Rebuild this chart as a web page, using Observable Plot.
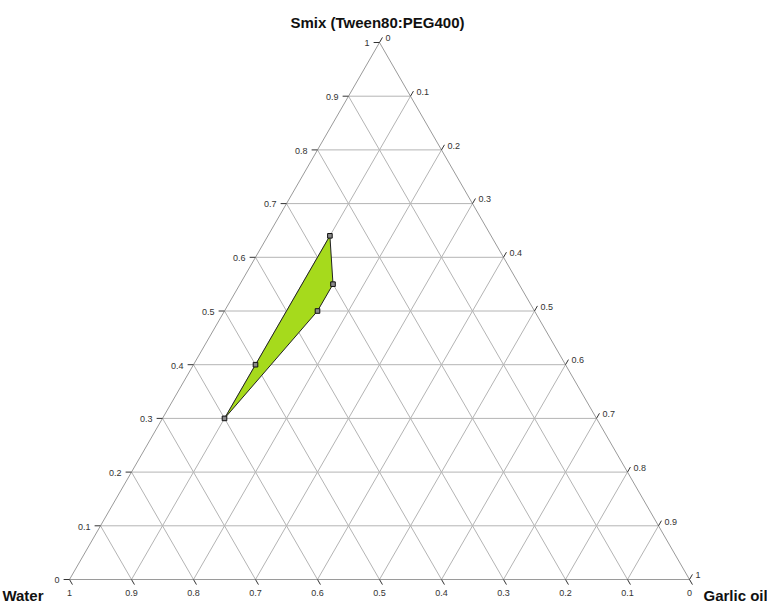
<!DOCTYPE html>
<html>
<head>
<meta charset="utf-8">
<script src="https://cdn.jsdelivr.net/npm/d3@7"></script>
<script src="https://cdn.jsdelivr.net/npm/@observablehq/plot@0.6"></script>
<style>
  html, body { margin: 0; padding: 0; background: #fff; }
</style>
</head>
<body>
<div id="chart"></div>
<script>
// Axis ticks (fractions) and their labels
const tickValues = [0, 0.1, 0.2, 0.3, 0.4, 0.5, 0.6, 0.7, 0.8, 0.9, 1];
const tickLabels = ["0", "0.1", "0.2", "0.3", "0.4", "0.5", "0.6", "0.7", "0.8", "0.9", "1"];

// Component names
const titleSmix = "Smix (Tween80:PEG400)";
const titleWater = "Water";
const titleOil = "Garlic oil";

// Boundary points of the nanoemulsion region (fractions)
const waterVals = [0.60, 0.50, 0.26, 0.30, 0.35];
const smixVals  = [0.30, 0.40, 0.64, 0.55, 0.50];
const oilVals   = [0.10, 0.10, 0.10, 0.15, 0.15];

// ---- ternary -> cartesian transform ----
const H = Math.sqrt(3) / 2;
const tx = (s, o) => o + s / 2;
const ty = (s) => s * H;

const pts = smixVals.map((s, i) => ({ x: tx(s, oilVals[i]), y: ty(s) }));
const ring = [...pts, pts[0]];

// Grid lines
const inner = tickValues.slice(1, -1);
const grid = [];
for (const t of inner) {
  grid.push({ x1: t / 2, y1: t * H, x2: 1 - t / 2, y2: t * H });           // Smix = t
  grid.push({ x1: t, y1: 0, x2: (1 + t) / 2, y2: (1 - t) * H });          // Oil = t
  grid.push({ x1: 1 - t, y1: 0, x2: (1 - t) / 2, y2: (1 - t) * H });      // Water = t
}
const edges = [
  { x1: 0, y1: 0, x2: 1, y2: 0 },
  { x1: 0, y1: 0, x2: 0.5, y2: H },
  { x1: 0.5, y1: H, x2: 1, y2: 0 }
];

// Ticks
const L = 0.0095;
const leftTicks = tickValues.map((s, i) => {
  const px = s / 2, py = s * H;
  return { x1: px, y1: py, x2: px - L, y2: py, label: tickLabels[i] };
});
const rightTicks = tickValues.map((o, i) => {
  const px = (1 + o) / 2, py = (1 - o) * H;
  return { x1: px, y1: py, x2: px + L * 0.5, y2: py + L * H, label: tickLabels[i] };
});
const bottomTicks = tickValues.map((w, i) => {
  const px = 1 - w, py = 0;
  return { x1: px, y1: py, x2: px + L * 0.5, y2: py - L * H, label: tickLabels[i] };
});
const allTicks = [...leftTicks, ...rightTicks, ...bottomTicks];

const labelFill = "#333";
const labelSize = 9;

const chart = Plot.plot({
  width: 767,
  height: 605,
  marginLeft: 69,
  marginRight: 78,
  marginTop: 42,
  marginBottom: 26,
  x: { domain: [0, 1], axis: null },
  y: { domain: [0, H], axis: null },
  style: { fontFamily: "'Liberation Sans', Arial, sans-serif", background: "#fff" },
  marks: [
    Plot.link(grid, { x1: "x1", y1: "y1", x2: "x2", y2: "y2", stroke: "#b4b4b4", strokeWidth: 1 }),
    Plot.link(edges, { x1: "x1", y1: "y1", x2: "x2", y2: "y2", stroke: "#9a9a9a", strokeWidth: 1 }),
    Plot.link(allTicks, { x1: "x1", y1: "y1", x2: "x2", y2: "y2", stroke: "#333", strokeWidth: 1 }),
    Plot.line(ring, { x: "x", y: "y", fill: "#a6da1c", stroke: "#222", strokeWidth: 1 }),
    Plot.dot(pts, { x: "x", y: "y", symbol: "square", r: 2.6, fill: "#8a8a8a", stroke: "#111", strokeWidth: 1 }),
    Plot.text(leftTicks, { x: "x2", y: "y2", text: "label", textAnchor: "end", dx: -4, dy: 1, fontSize: labelSize, fill: labelFill }),
    Plot.text(rightTicks, { x: "x2", y: "y2", text: "label", textAnchor: "start", dx: 3, dy: 1, fontSize: labelSize, fill: labelFill }),
    Plot.text(bottomTicks, { x: "x1", y: "y1", text: "label", textAnchor: "middle", dy: 14, fontSize: labelSize, fill: labelFill }),
    Plot.text([{ x: 0.5, y: H, t: titleSmix }], { x: "x", y: "y", text: "t", textAnchor: "middle", dx: -2, dy: -19, fontSize: 15, fontWeight: "bold", fill: "#111" }),
    Plot.text([{ x: 0, y: 0, t: titleWater }], { x: "x", y: "y", text: "t", textAnchor: "end", dx: -26, dy: 17, fontSize: 15, fontWeight: "bold", fill: "#111" }),
    Plot.text([{ x: 1, y: 0, t: titleOil }], { x: "x", y: "y", text: "t", textAnchor: "start", dx: 14, dy: 17, fontSize: 15, fontWeight: "bold", fill: "#111" })
  ]
});
document.getElementById("chart").appendChild(chart);
</script>
</body>
</html>
